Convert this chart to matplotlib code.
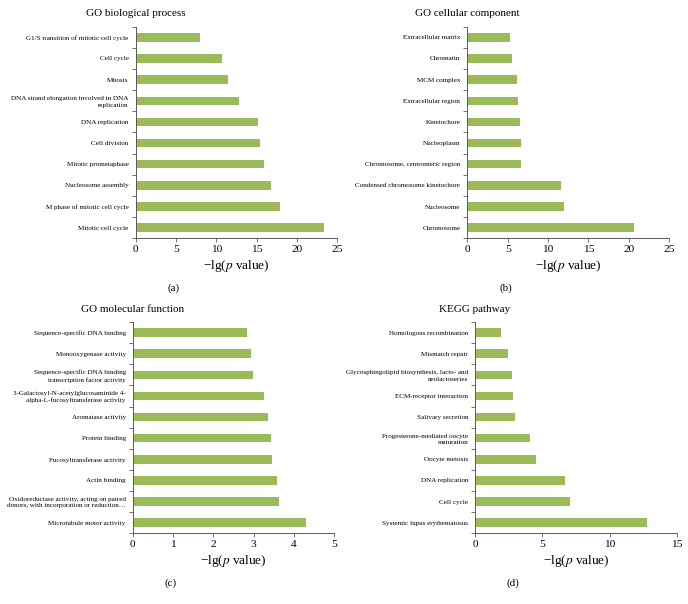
import matplotlib
matplotlib.use("Agg")
import matplotlib.pyplot as plt
import numpy as np

plt.rcParams['font.family'] = ['Liberation Serif', 'DejaVu Serif']
plt.rcParams['mathtext.fontset'] = 'stix'

# categories listed top to bottom
bp_terms = ['G1/S transition of mitotic cell cycle', 'Cell cycle', 'Mitosis',
            'DNA strand elongation involved in DNA\nreplication', 'DNA replication',
            'Cell division', 'Mitotic prometaphase', 'Nucleosome assembly',
            'M phase of mitotic cell cycle', 'Mitotic cell cycle']
bp_values = [7.98, 10.74, 11.45, 12.85, 15.12, 15.41, 15.87, 16.82, 17.93, 23.39]

cc_terms = ['Extracellular matrix', 'Chromatin', 'MCM complex', 'Extracellular region',
            'Kinetochore', 'Nucleoplasm', 'Chromosome, centromeric region',
            'Condensed chromosome kinetochore', 'Nucleosome', 'Chromosome']
cc_values = [5.24, 5.57, 6.19, 6.23, 6.56, 6.60, 6.68, 11.63, 11.96, 20.59]

mf_terms = ['Sequence-specific DNA binding', 'Monooxygenase activity',
            'Sequence-specific DNA binding\ntranscription factor activity',
            '3-Galactosyl-N-acetylglucosaminide 4-\nalpha-L-fucosyltransferase activity',
            'Aromatase activity', 'Protein binding', 'Fucosyltransferase activity',
            'Actin binding',
            'Oxidoreductase activity, acting on paired\ndonors, with incorporation or reduction\u2026',
            'Microtubule motor activity']
mf_values = [2.84, 2.94, 2.98, 3.26, 3.36, 3.44, 3.46, 3.57, 3.62, 4.29]

kegg_terms = ['Homologous recombination', 'Mismatch repair',
              'Glycosphingolipid biosynthesis, lacto- and\nneolactoseries',
              'ECM-receptor interaction', 'Salivary secretion',
              'Progesterone-mediated oocyte\nmaturation', 'Oocyte meiosis',
              'DNA replication', 'Cell cycle', 'Systemic lupus erythematosus']
kegg_values = [1.93, 2.45, 2.77, 2.80, 3.00, 4.06, 4.53, 6.68, 7.03, 12.77]

panels = [
    ('GO biological process', bp_terms, bp_values, 25, 5, '(a)', [0.1972, 0.6055, 0.2931, 0.3503]),
    ('GO cellular component', cc_terms, cc_values, 25, 5, '(b)', [0.6792, 0.6055, 0.2936, 0.3503]),
    ('GO molecular function', mf_terms, mf_values, 5, 1, '(c)', [0.1929, 0.1171, 0.2930, 0.3498]),
    ('KEGG pathway', kegg_terms, kegg_values, 15, 5, '(d)', [0.6904, 0.1171, 0.2936, 0.3498]),
]

bar_color = '#9BBB59'
axis_color = '#595959'

fig = plt.figure(figsize=(6.88, 6.04), dpi=100)

for title, terms, values, xmax, step, tag, rect in panels:
    ax = fig.add_axes(rect)
    y = np.arange(len(terms))
    ax.barh(y, values, height=0.4, color=bar_color)
    ax.set_ylim(len(terms) - 0.5, -0.5)
    ax.set_xlim(0, xmax)
    ax.set_xticks(np.arange(0, xmax + step, step))
    ax.set_yticks(y)
    ax.set_yticklabels(terms, fontsize=5.1, linespacing=1.35)
    ax.set_yticks(np.arange(-0.5, len(terms), 1.0), minor=True)
    ax.tick_params(axis='y', which='major', length=0, pad=5)
    ax.tick_params(axis='y', which='minor', length=3, width=0.6, color=axis_color)
    ax.tick_params(axis='x', length=3, width=0.6, color=axis_color, labelsize=8.2, pad=2)
    for side in ['top', 'right']:
        ax.spines[side].set_visible(False)
    for side in ['left', 'bottom']:
        ax.spines[side].set_color(axis_color)
        ax.spines[side].set_linewidth(0.7)
    ax.set_xlabel('\u2212lg($p$ value)', fontsize=9.5, labelpad=3)
    # title sits centred over the left spine
    ax.text(0, 1.04, title, transform=ax.transAxes, ha='center', va='bottom', fontsize=8)
    # panel letter below the xlabel
    left, bottom = rect[0], rect[1]
    fig.text(left - 0.1972 + 0.2529, bottom - 0.083, tag, ha='center', va='center', fontsize=8)

fig.savefig('out.png', dpi=100)
